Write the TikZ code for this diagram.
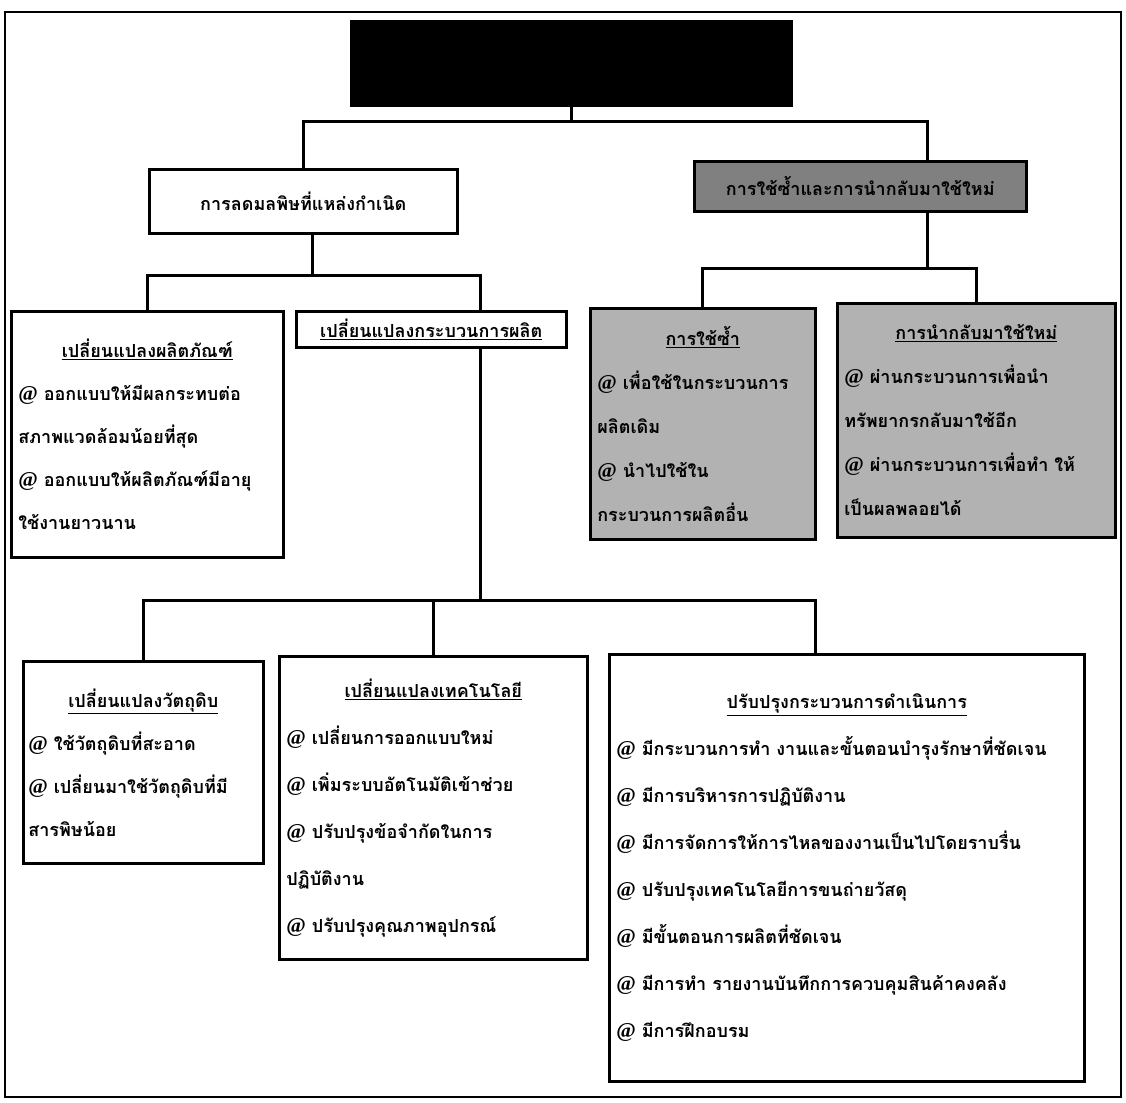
\documentclass[tikz,border=0pt]{standalone}
\usepackage{fontspec}
\setmainfont{Liberation Serif}
\newfontfamily\thaifont[Script=Thai]{Loma}
\usetikzlibrary{positioning}
\setlength{\parindent}{0pt}
\newcommand*{\atsign}{{\rmfamily\bfseries\fontsize{21}{21}\selectfont @}}

\tikzset{
  box/.style={draw, line width=2.6pt, anchor=north west, inner sep=0pt,
    font=\thaifont\bfseries\fontsize{18}{43}\selectfont},
  leaf/.style={box, align=left, inner xsep=7pt},
  shaded/.style={fill=black!30},
  link/.style={line width=3pt}
}

\begin{document}
\begin{tikzpicture}[x=1pt, y=-1pt]
\useasboundingbox (0,0) rectangle (1126,1102);
\draw[line width=1.5pt] (5,12) rectangle (1121,1097);

% Top
\node[box, fill=black, minimum width=440, minimum height=84] (clean) at (350,20) {};

% Level 2
\node[box, minimum width=308, minimum height=64] (source) at (148,168)
  {การลดมลพิษที่แหล่งกำเนิด};
\node[box, fill=black!50, minimum width=332, minimum height=50] (reuse) at (693,160)
  {การใช้ซ้ำและการนำกลับมาใช้ใหม่};

% Level 3
\node[leaf, text width=258, minimum height=246] (product) at (10,310) {
  {\centering\underline{เปลี่ยนแปลงผลิตภัณฑ์}\par}
  \atsign{} ออกแบบให้มีผลกระทบต่อ\\
  สภาพแวดล้อมน้อยที่สุด\\
  \atsign{} ออกแบบให้ผลิตภัณฑ์มีอายุ\\
  ใช้งานยาวนาน};
\node[box, minimum width=270, minimum height=36] (process) at (295,310)
  {\underline{เปลี่ยนแปลงกระบวนการผลิต}};
\node[leaf, shaded, text width=211, minimum height=231,
  font=\thaifont\bfseries\fontsize{18}{44}\selectfont] (again) at (589,307) {
  {\centering\underline{การใช้ซ้ำ}\par}
  \atsign{} เพื่อใช้ในกระบวนการ\\
  ผลิตเดิม\\
  \atsign{} นำไปใช้ใน\\
  กระบวนการผลิตอื่น};
\node[leaf, shaded, text width=264, minimum height=234,
  font=\thaifont\bfseries\fontsize{18}{44}\selectfont] (recycle) at (836,302) {
  {\centering\underline{การนำกลับมาใช้ใหม่}\par}
  \atsign{} ผ่านกระบวนการเพื่อนำ\\
  ทรัพยากรกลับมาใช้อีก\\
  \atsign{} ผ่านกระบวนการเพื่อทำ ให้\\
  เป็นผลพลอยได้};

% Level 4
\node[leaf, inner xsep=5pt, text width=230, minimum height=202] (rawmat) at (22,660) {
  {\centering\underline{เปลี่ยนแปลงวัตถุดิบ}\par}
  \atsign{} ใช้วัตถุดิบที่สะอาด\\
  \atsign{} เปลี่ยนมาใช้วัตถุดิบที่มี\\
  สารพิษน้อย};
\node[leaf, text width=294, minimum height=303,
  font=\thaifont\bfseries\fontsize{18}{47}\selectfont] (technology) at (278,655) {
  {\centering\underline{เปลี่ยนแปลงเทคโนโลยี}\par}
  \atsign{} เปลี่ยนการออกแบบใหม่\\
  \atsign{} เพิ่มระบบอัตโนมัติเข้าช่วย\\
  \atsign{} ปรับปรุงข้อจำกัดในการ\\
  ปฏิบัติงาน\\
  \atsign{} ปรับปรุงคุณภาพอุปกรณ์};
\node[leaf, text width=461, minimum height=427,
  font=\thaifont\bfseries\fontsize{18}{47}\selectfont] (operation) at (608,653) {
  {\centering\underline{ปรับปรุงกระบวนการดำเนินการ}\par}
  \atsign{} มีกระบวนการทำ งานและขั้นตอนบำรุงรักษาที่ชัดเจน\\
  \atsign{} มีการบริหารการปฏิบัติงาน\\
  \atsign{} มีการจัดการให้การไหลของงานเป็นไปโดยราบรื่น\\
  \atsign{} ปรับปรุงเทคโนโลยีการขนถ่ายวัสดุ\\
  \atsign{} มีขั้นตอนการผลิตที่ชัดเจน\\
  \atsign{} มีการทำ รายงานบันทึกการควบคุมสินค้าคงคลัง\\
  \atsign{} มีการฝึกอบรม};

% Connectors
\coordinate (bus1) at (567,122);
\coordinate (bus2) at (312,275);
\coordinate (bus3) at (927,268);
\coordinate (bus4) at (480,600);
\coordinate (opsstem) at (815,600);

\draw[link] (clean.south) |- (bus1);
\draw[link] (source.north) |- (bus1) -| (bus3 |- reuse.north);

\draw[link] (source.south -| bus2) -- (bus2);
\draw[link] (product.north) |- (bus2) -| (bus4 |- process.north);

\draw[link] (reuse.south -| bus3) -- (bus3);
\draw[link] (again.north) |- (bus3) -| (recycle.north);

\draw[link] (process.south -| bus4) -- (bus4);
\draw[link] (rawmat.north) |- (bus4) -- (opsstem) -- (opsstem |- operation.north);
\draw[link] (technology.north) -- (technology.north |- bus4);
\end{tikzpicture}
\end{document}
